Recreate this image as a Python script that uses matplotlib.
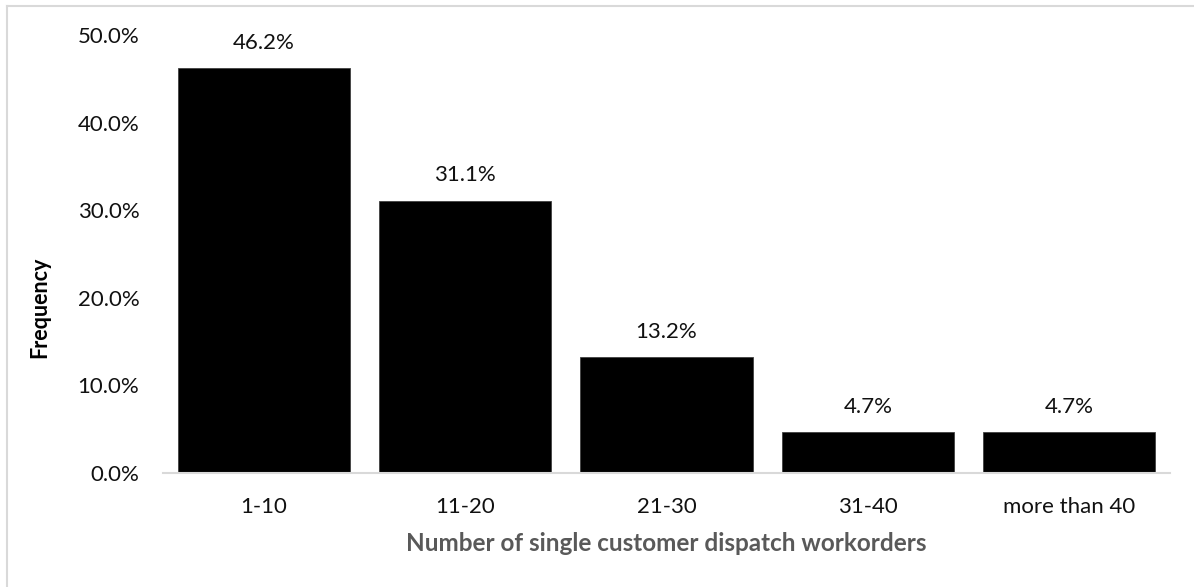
import matplotlib
matplotlib.use("Agg")
import matplotlib.pyplot as plt
from matplotlib.lines import Line2D
from matplotlib.ticker import FuncFormatter, MultipleLocator

plt.rcParams["font.family"] = ["Lato", "DejaVu Sans"]

categories = ["1-10", "11-20", "21-30", "31-40", "more than 40"]
frequency = [46.2, 31.1, 13.2, 4.7, 4.7]

W, H = 1194, 587
fig = plt.figure(figsize=(W / 100, H / 100), dpi=100)

# light chart-area border along the top and left edges
border = dict(transform=fig.transFigure, color="#d9d9d9", lw=1.5)
fig.add_artist(Line2D([7 / W, 7 / W], [0, 1 - 6 / H], **border))
fig.add_artist(Line2D([7 / W, 1], [1 - 6 / H, 1 - 6 / H], **border))

ax = fig.add_axes([163 / W, 1 - 473 / H, (1170 - 163) / W, (473 - 35) / H])
x = range(len(categories))
bars = ax.bar(x, frequency, width=0.855, color="black", edgecolor="#404040", lw=0.6)

for b, v in zip(bars, frequency):
    ax.annotate(f"{v:.1f}%", (b.get_x() + b.get_width() / 2, v),
                xytext=(0, 11), textcoords="offset points",
                ha="center", va="bottom", fontsize=16, color="#111111")

ax.set_xlim(-0.5, len(categories) - 0.5)
ax.set_ylim(0, 50)
ax.yaxis.set_major_locator(MultipleLocator(10))
ax.yaxis.set_major_formatter(FuncFormatter(lambda v, _: f"{v:.1f}%"))
ax.set_xticks(list(x))
ax.set_xticklabels(categories)
ax.tick_params(axis="both", length=0, labelsize=16, colors="#111111")
ax.tick_params(axis="x", pad=17)
ax.tick_params(axis="y", pad=17)

for s in ["top", "right", "left"]:
    ax.spines[s].set_visible(False)
ax.spines["bottom"].set_color("#d9d9d9")
ax.spines["bottom"].set_linewidth(1.5)

ax.set_xlabel("Number of single customer dispatch workorders", fontsize=17.5,
              fontweight="bold", color="#595959", labelpad=11)
fig.text(40 / W, 1 - 307 / H, "Frequency", rotation=90, ha="center", va="center",
         fontsize=15.5, fontweight="bold", color="black")

fig.savefig("out.png", dpi=100)
